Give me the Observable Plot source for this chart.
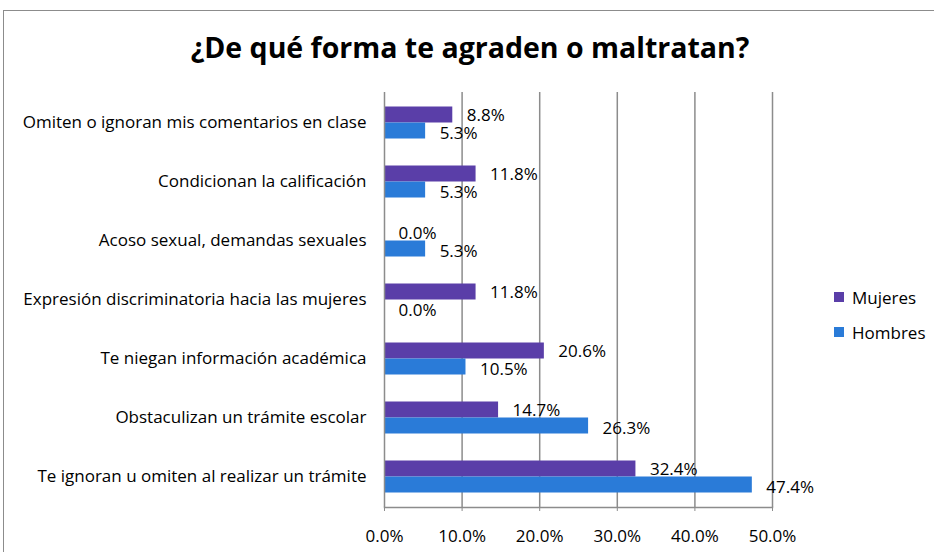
<!DOCTYPE html>
<html>
<head>
<meta charset="utf-8">
<script src="https://cdn.jsdelivr.net/npm/d3@7"></script>
<script src="https://cdn.jsdelivr.net/npm/@observablehq/plot@0.6"></script>
<style>
  html, body { margin: 0; padding: 0; background: #fff; }
  body { width: 934px; height: 552px; position: relative; overflow: hidden; font-family: "Open Sans", sans-serif; }
  #frame { position: absolute; left: 3px; top: 10px; width: 940px; height: 560px; border: 1px solid #8c8c8c; box-sizing: border-box; }
  #title { position: absolute; left: 0; width: 940px; top: 28px; text-align: center; font-size: 28.5px; font-weight: bold; color: #000; font-family: "Open Sans", sans-serif; }
  #chart { position: absolute; left: 0; top: 0; }
  #legend { position: absolute; left: 834px; top: 287px; font-size: 17px; color: #000; }
  .li { display: flex; align-items: center; height: 20px; margin-bottom: 15px; }
  .sw { width: 10px; height: 10px; margin-right: 8px; }
</style>
</head>
<body>
<div id="frame"></div>
<div id="title">¿De qué forma te agraden o maltratan?</div>
<div id="chart"></div>
<div id="legend"></div>
<script>
const categories = [
  "Omiten o ignoran mis comentarios en clase",
  "Condicionan la calificación",
  "Acoso sexual, demandas sexuales",
  "Expresión discriminatoria hacia las mujeres",
  "Te niegan información académica",
  "Obstaculizan un trámite escolar",
  "Te ignoran u omiten al realizar un trámite"
];
const mujeres = [8.8, 11.8, 0.0, 11.8, 20.6, 14.7, 32.4];
const hombres = [5.3, 5.3, 5.3, 0.0, 10.5, 26.3, 47.4];
const series = ["Mujeres", "Hombres"];
const colors = ["#5a3ea8", "#2a7bd8"];
const xTicks = [0, 10, 20, 30, 40, 50];

const dataM = categories.map((c, i) => ({category: c, value: mujeres[i]}));
const dataH = categories.map((c, i) => ({category: c, value: hombres[i]}));
const fmt = v => v.toFixed(1) + "%";

const plot = Plot.plot({
  width: 934,
  height: 552,
  marginLeft: 384,
  marginRight: 162,
  marginTop: 92,
  marginBottom: 45,
  style: {fontFamily: "'Open Sans', sans-serif", fontSize: "17px", color: "#000", background: "transparent"},
  x: {domain: [0, 50], label: null},
  y: {domain: categories, padding: 0, label: null},
  marks: [
    Plot.ruleX(xTicks.slice(1), {stroke: "#8c8c8c", strokeWidth: 1.5}),
    Plot.barX(dataM, {x: "value", y: "category", fill: colors[0], insetTop: 13.5, insetBottom: 29.5}),
    Plot.barX(dataH, {x: "value", y: "category", fill: colors[1], insetTop: 29.5, insetBottom: 13.5}),
    Plot.text(dataM, {x: "value", y: "category", text: d => fmt(d.value), dx: 14, dy: -7, textAnchor: "start", fontSize: 17, fill: "#000"}),
    Plot.text(dataH, {x: "value", y: "category", text: d => fmt(d.value), dx: 14, dy: 10.5, textAnchor: "start", fontSize: 17, fill: "#000"}),
    Plot.ruleX([0], {stroke: "#8c8c8c", strokeWidth: 1.5}),
    Plot.axisY({tickSize: 0, tickPadding: 18, fontSize: 17}),
    Plot.axisX({ticks: xTicks, tickFormat: d => d.toFixed(1) + "%", tickSize: 4, tickPadding: 18, stroke: "#8c8c8c", fontSize: 17}),
    Plot.frame({anchor: "bottom", stroke: "#8c8c8c", strokeWidth: 1.5})
  ]
});
document.getElementById("chart").appendChild(plot);

const legend = document.getElementById("legend");
series.forEach((s, i) => {
  const row = document.createElement("div");
  row.className = "li";
  row.innerHTML = `<div class="sw" style="background:${colors[i]}"></div><span>${s}</span>`;
  legend.appendChild(row);
});
</script>
</body>
</html>
